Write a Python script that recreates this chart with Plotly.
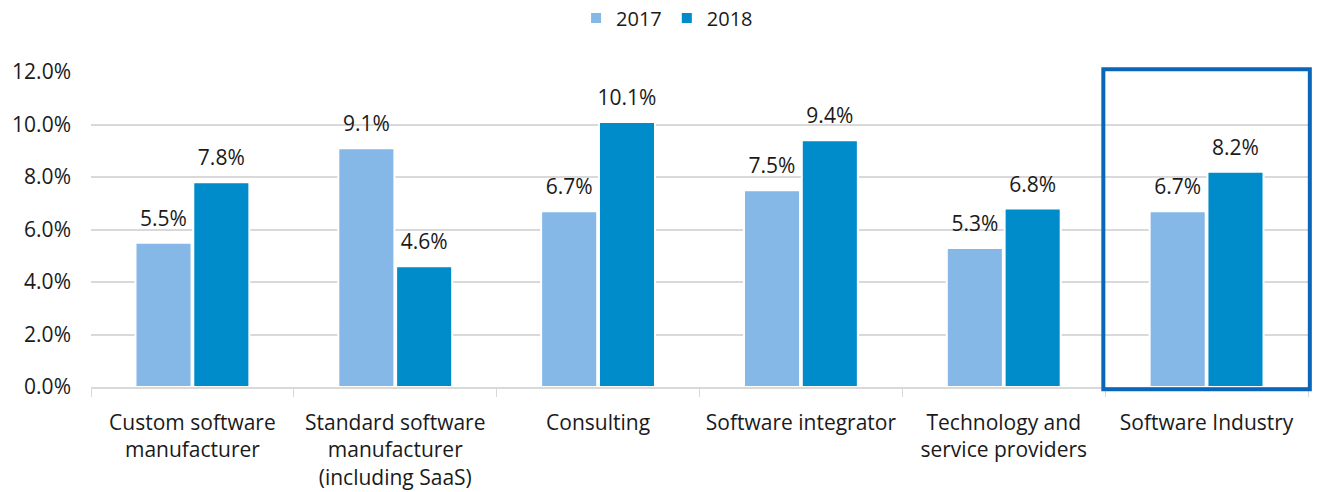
import plotly.graph_objects as go

categories = [
    "Custom software<br>manufacturer",
    "Standard software<br>manufacturer<br>(including SaaS)",
    "Consulting",
    "Software integrator",
    "Technology and<br>service providers",
    "Software Industry",
]
values_2017 = [5.5, 9.1, 6.7, 7.5, 5.3, 6.7]
values_2018 = [7.8, 4.6, 10.1, 9.4, 6.8, 8.2]
y_ticks = [0, 2, 4, 6, 8, 10, 12]
y_ticktext = [f"{v:.1f}%" for v in y_ticks]

font_family = "'Open Sans', sans-serif"
txt = "#1a1a1a"
fs = 21

fig = go.Figure()
series = [("2017", values_2017, "#85B8E7"), ("2018", values_2018, "#008BCA")]
for name, vals, col in series:
    fig.add_trace(go.Bar(
        name=name, x=categories, y=vals, offsetgroup=name,
        marker=dict(color=col, line=dict(color="white", width=2)),
    ))
# value labels, lifted above the bars by an invisible marker
for name, vals, col in series:
    fig.add_trace(go.Scatter(
        x=categories, y=vals, offsetgroup=name, mode="markers+text",
        marker=dict(size=17, opacity=0), text=[f"{v:.1f}%" for v in vals],
        textposition="top center", textfont=dict(size=fs, color=txt),
        showlegend=False, cliponaxis=False, hoverinfo="skip",
    ))

# highlight box around the last category
n = len(categories)
fig.add_shape(
    type="rect", xref="paper", yref="paper",
    x0=(n - 1) / n - 0.0015, x1=1.0015, y0=-0.007, y1=1.009,
    line=dict(color="#0A66B8", width=4), fillcolor="rgba(0,0,0,0)",
)

fig.update_layout(
    width=1317, height=492,
    margin=dict(l=91, r=9, t=72, b=105),
    paper_bgcolor="white", plot_bgcolor="white",
    font=dict(family=font_family, size=fs, color=txt),
    barmode="group", bargap=0.43, bargroupgap=0.03,
    scattermode="group", scattergap=0.43,
    legend=dict(
        orientation="h", xref="container", x=0.5065, xanchor="center",
        yref="container", y=0.9634, yanchor="middle",
        font=dict(size=20), traceorder="normal",
    ),
    showlegend=True,
)
fig.update_xaxes(
    range=[-0.5, n - 0.5],
    showline=True, linecolor="#D9D9D9", linewidth=1.5,
    ticks="outside", tickson="boundaries", ticklen=8, tickcolor="#D9D9D9",
    tickfont=dict(size=fs), showgrid=False, automargin=False,
    ticklabelstandoff=16,
)
fig.update_yaxes(
    range=[0, 12], tickvals=y_ticks, ticktext=y_ticktext,
    showgrid=True, gridcolor="#D9D9D9", gridwidth=1.5, zeroline=False,
    showline=False, tickfont=dict(size=fs), ticklabelstandoff=19,
    automargin=False,
)

# drop the default 8px page margin so the figure fills the window
fig.write_html(
    "out.html",
    config={"displayModeBar": False},
    post_script="document.body.style.margin='0';",
)
